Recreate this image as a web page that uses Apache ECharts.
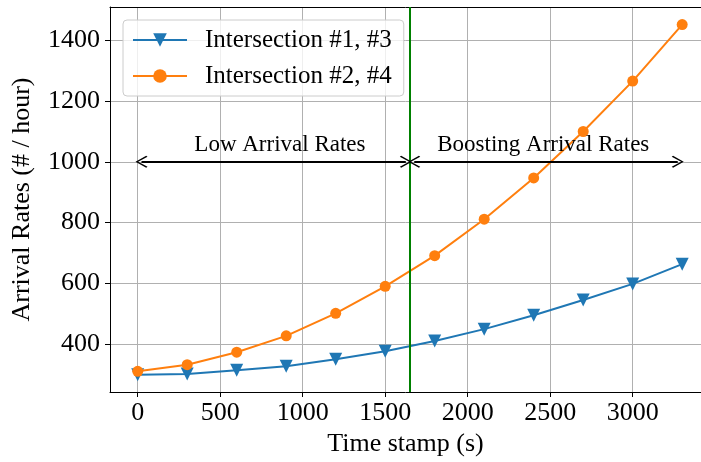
<!DOCTYPE html>
<html>
<head>
<meta charset="utf-8">
<script src="https://cdn.jsdelivr.net/npm/echarts@6/dist/echarts.min.js"></script>
<style>html,body{margin:0;padding:0;background:#fff}#c{width:701px;height:462px}</style>
</head>
<body>
<div id="c"></div>
<script>
const timeStamps = [0, 300, 600, 900, 1200, 1500, 1800, 2100, 2400, 2700, 3000, 3300];
const series13 = [299, 301, 314, 327, 350, 376, 410, 449, 495, 545, 598, 663];
const series24 = [310, 332, 373, 427, 501, 590, 691, 811, 947, 1100, 1266, 1452];
const xTicks = [0, 500, 1000, 1500, 2000, 2500, 3000];
const yTicks = [400, 600, 800, 1000, 1200, 1400];
const splitX = 1650;
const arrowY = 1000;
const annotations = [
  {name: 'Low Arrival Rates', value: [862, 1056]},
  {name: 'Boosting Arrival Rates', value: [2458, 1056]}
];

const FONT = 'Liberation Serif';
const chevron = 'path://M0,0 L6,8 L5,9 L0,2 L-5,9 L-6,8 Z';
const X_MIN = -168, X_MAX = 3414;

const chart = echarts.init(document.getElementById('c'), null, {renderer: 'canvas'});
chart.setOption({
  animation: false,
  backgroundColor: '#fff',
  grid: {left: 110, top: 7, right: 0, bottom: 70, show: false},
  legend: {
    data: ['Intersection #1, #3', 'Intersection #2, #4'],
    orient: 'vertical', left: 123, top: 20,
    padding: [6, 12, 6, 9],
    itemWidth: 54, itemHeight: 17, itemGap: 8,
    backgroundColor: 'rgba(255,255,255,0.8)',
    borderColor: '#cccccc', borderWidth: 1, borderRadius: 4,
    textStyle: {fontFamily: FONT, fontSize: 25, color: '#000', padding: [0, 0, 0, 13], lineHeight: 28}
  },
  xAxis: [{
    type: 'value', min: X_MIN, max: X_MAX,
    name: 'Time stamp (s)', nameLocation: 'middle', nameGap: 34,
    nameTextStyle: {fontFamily: FONT, fontSize: 26, color: '#000'},
    axisLine: {show: true, onZero: false, lineStyle: {color: '#000', width: 1}},
    axisTick: {show: true, length: 5, lineStyle: {color: '#000'}, customValues: xTicks},
    axisLabel: {fontFamily: FONT, fontSize: 26, color: '#000', margin: 8, customValues: xTicks, formatter: v => String(v)},
    splitLine: {show: true, lineStyle: {color: '#b0b0b0', width: 1}}
  }, {
    type: 'value', min: X_MIN, max: X_MAX, position: 'top',
    axisLine: {show: true, onZero: false, lineStyle: {color: '#000', width: 1}},
    axisTick: {show: false}, axisLabel: {show: false}, splitLine: {show: false}
  }],
  yAxis: {
    type: 'value', min: 242, max: 1510,
    name: 'Arrival Rates (# / hour)', nameLocation: 'middle', nameGap: 75,
    nameTextStyle: {fontFamily: FONT, fontSize: 26, color: '#000'},
    axisLine: {show: true, onZero: false, lineStyle: {color: '#000', width: 1}},
    axisTick: {show: true, length: 5, lineStyle: {color: '#000'}, customValues: yTicks},
    axisLabel: {fontFamily: FONT, fontSize: 26, color: '#000', margin: 10, customValues: yTicks, formatter: v => String(v)},
    splitLine: {show: true, lineStyle: {color: '#b0b0b0', width: 1}}
  },
  series: [
    {
      name: 'Intersection #1, #3', type: 'line',
      data: timeStamps.map((t, i) => [t, series13[i]]),
      symbol: 'triangle', symbolRotate: 180, symbolSize: 13,
      lineStyle: {color: '#1f77b4', width: 2},
      itemStyle: {color: '#1f77b4'},
      z: 3
    },
    {
      name: 'Intersection #2, #4', type: 'line',
      data: timeStamps.map((t, i) => [t, series24[i]]),
      symbol: 'circle', symbolSize: 11,
      lineStyle: {color: '#ff7f0e', width: 2},
      itemStyle: {color: '#ff7f0e'},
      z: 4
    },
    {
      name: 'markers', type: 'line', data: [], silent: true,
      markLine: {
        silent: true, animation: false,
        symbol: ['none', 'none'],
        label: {show: false},
        lineStyle: {color: '#008000', width: 2, type: 'solid'},
        data: [{xAxis: splitX}]
      },
      z: 5
    },
    {
      name: 'arrows', type: 'line', data: [], silent: true,
      markLine: {
        silent: true, animation: false,
        symbol: [chevron, chevron], symbolSize: 12,
        label: {show: false},
        lineStyle: {color: '#000', width: 1.8, type: 'solid'},
        data: [
          [{coord: [23, arrowY]}, {coord: [1625, arrowY]}],
          [{coord: [1676, arrowY]}, {coord: [3273, arrowY]}]
        ]
      },
      z: 5
    },
    {
      name: 'annot', type: 'scatter', symbolSize: 0, silent: true,
      data: annotations,
      itemStyle: {color: '#000', opacity: 1},
      label: {show: true, position: 'inside', formatter: p => p.name, fontFamily: FONT, fontSize: 23, color: '#000', opacity: 1, textBorderWidth: 0, textBorderColor: 'transparent'},
      z: 6
    }
  ]
});
</script>
</body>
</html>
